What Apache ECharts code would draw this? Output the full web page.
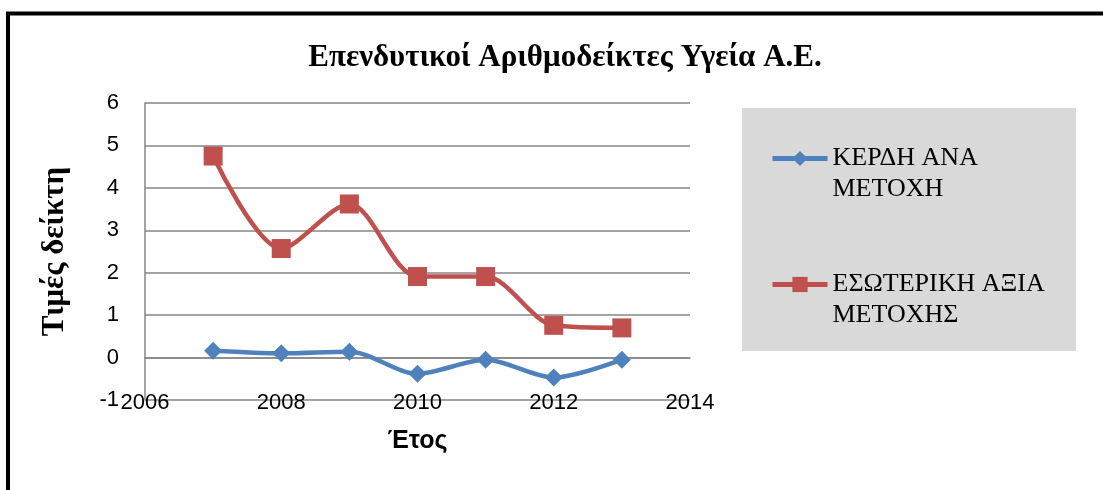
<!DOCTYPE html>
<html>
<head>
<meta charset="utf-8">
<script src="https://cdn.jsdelivr.net/npm/echarts@6/dist/echarts.min.js"></script>
<style>
  html, body { margin: 0; padding: 0; background: #fff; }
  #chart { width: 1103px; height: 490px; }
</style>
</head>
<body>
<div id="chart"></div>
<script>
const years = [2007, 2008, 2009, 2010, 2011, 2012, 2013]
const eps = [0.16, 0.1, 0.14, -0.38, -0.05, -0.47, -0.05]
const bookValue = [4.75, 2.57, 3.62, 1.91, 1.91, 0.76, 0.7]
const seriesNames = ['ΚΕΡΔΗ ΑΝΑ ΜΕΤΟΧΗ', 'ΕΣΩΤΕΡΙΚΗ ΑΞΙΑ ΜΕΤΟΧΗΣ']
// legend text is wrapped the way the reference shows it
const legendLabels = {
  'ΚΕΡΔΗ ΑΝΑ ΜΕΤΟΧΗ': ['ΚΕΡΔΗ ΑΝΑ', 'ΜΕΤΟΧΗ'],
  'ΕΣΩΤΕΡΙΚΗ ΑΞΙΑ ΜΕΤΟΧΗΣ': ['ΕΣΩΤΕΡΙΚΗ ΑΞΙΑ', 'ΜΕΤΟΧΗΣ'],
}

const chart = echarts.init(document.getElementById('chart'))

const grey = '#868686'
const serif = '"Liberation Serif", "Times New Roman", serif'
const sans = '"Liberation Sans", Arial, sans-serif'

chart.setOption({
  backgroundColor: '#fff',
  animation: false,
  title: {
    text: 'Επενδυτικοί Αριθμοδείκτες Υγεία Α.Ε.',
    left: 560,
    top: 37,
    textAlign: 'center',
    textStyle: { fontFamily: serif, fontWeight: 'bold', fontSize: 31, color: '#000' },
  },
  graphic: [
    {
      type: 'rect',
      shape: { x: 8, y: 13.5, width: 1200, height: 600 },
      style: { fill: 'none', stroke: '#000', lineWidth: 4 },
      silent: true,
      z: 100,
    },
    {
      type: 'rect',
      shape: { x: 742, y: 108, width: 334, height: 243 },
      style: { fill: '#d9d9d9' },
      silent: true,
      z: 0,
    },
  ],
  grid: { left: 145, right: 413, top: 103, bottom: 90 },
  legend: {
    orient: 'vertical',
    left: 765,
    top: 105,
    itemWidth: 55,
    itemHeight: 19,
    itemGap: 29,
    data: seriesNames,
    // blank first line keeps the icon level with the first text line
    formatter: (name) => ' \n' + legendLabels[name].join('\n'),
    lineStyle: { width: 5 },
    textStyle: {
      fontFamily: serif,
      fontSize: 26,
      lineHeight: 31,
      color: '#000',
      padding: [4, 0, 0, 0],
    },
  },
  xAxis: {
    type: 'value',
    min: 2006,
    max: 2014,
    interval: 2,
    name: 'Έτος',
    nameLocation: 'middle',
    nameGap: 29,
    nameTextStyle: { fontFamily: sans, fontWeight: 'bold', fontSize: 25, color: '#000' },
    axisLine: { show: true, lineStyle: { color: grey, width: 1.5 } },
    axisTick: { show: false },
    splitLine: { show: false },
    axisLabel: { margin: -8, fontFamily: sans, fontSize: 22, color: '#000', formatter: (v) => String(v) },
  },
  yAxis: {
    type: 'value',
    min: -1,
    max: 6,
    interval: 1,
    name: 'Τιμές δείκτη',
    nameLocation: 'middle',
    nameRotate: 90,
    nameGap: 75,
    nameTextStyle: { fontFamily: serif, fontWeight: 'bold', fontSize: 31, color: '#000' },
    axisLine: { show: true, lineStyle: { color: grey, width: 1.5 } },
    axisTick: { show: false },
    splitLine: { lineStyle: { color: grey, width: 1.5 } },
    axisLabel: { margin: 26, fontFamily: sans, fontSize: 22, color: '#000' },
  },
  series: [
    {
      name: seriesNames[0],
      type: 'line',
      smooth: 0.3,
      data: years.map((y, i) => [y, eps[i]]),
      symbol: 'diamond',
      symbolSize: 18,
      color: '#4f81bd',
      lineStyle: { width: 4.5, color: '#4f81bd' },
      itemStyle: { color: '#4f81bd' },
      z: 3,
    },
    {
      name: seriesNames[1],
      type: 'line',
      smooth: 0.3,
      data: years.map((y, i) => [y, bookValue[i]]),
      symbol: 'rect',
      symbolSize: 19,
      color: '#c0504d',
      lineStyle: { width: 4.5, color: '#c0504d' },
      itemStyle: { color: '#c0504d' },
      z: 3,
    },
  ],
})
</script>
</body>
</html>
